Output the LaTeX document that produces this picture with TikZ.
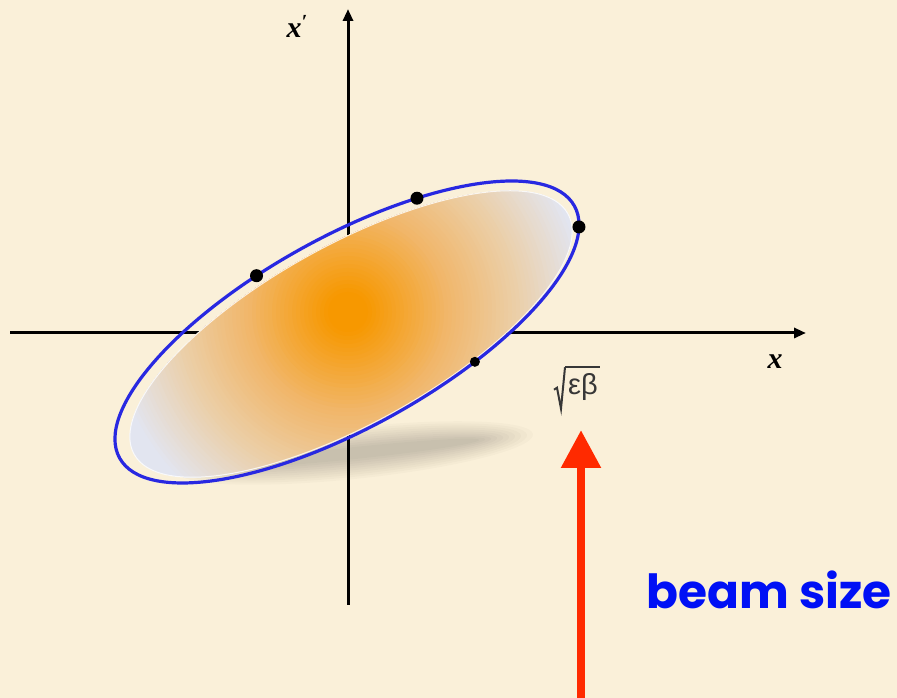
\documentclass[tikz,border=0pt]{standalone}
\usepackage{fontspec}
\newfontfamily\beamfont{Poppins}
\newfontfamily\greekfont{Liberation Serif}
\newfontfamily\greeksans{Liberation Sans}
\usetikzlibrary{arrows.meta,calc}
\definecolor{bgcol}{RGB}{250,240,217}
\definecolor{beamorange}{RGB}{247,152,0}
\definecolor{beammid}{RGB}{241,182,105}
\definecolor{beamtan}{RGB}{235,207,168}
\definecolor{beamedge}{RGB}{226,229,240}
\definecolor{emitblue}{RGB}{40,40,225}
\definecolor{arrowred}{RGB}{255,42,0}
\definecolor{textblue}{RGB}{0,16,245}
\definecolor{labgray}{RGB}{55,55,55}
\begin{document}
\begin{tikzpicture}[x=1pt,y=1pt,
  axis/.style={line width=3pt, black, -{Triangle[length=12pt,width=10pt]}},
  emit/.style={line width=3.2pt, draw=emitblue},
  dot/.style={circle, fill=black, inner sep=0pt, minimum size=13pt},
  lbl/.style={inner sep=0pt},
  axlbl/.style={inner sep=0pt, font=\fontsize{30}{34}\selectfont\greekfont\bfseries\itshape}]
\fill[bgcol] (0,0) rectangle (897,698);
\useasboundingbox (0,0) rectangle (897,698);
% axes
\coordinate (xl) at (10,365);
\coordinate (xr) at (806,365);
\coordinate (yb) at (348,93);
\coordinate (yt) at (348,689);
\draw[axis] (xl) -- (xr);
\draw[axis] (yb) -- (yt);
% shadow
\begin{scope}[shift={(355,245)}, rotate=6]
\foreach \k in {0,...,9}
  \fill[black, opacity=0.018] (0,0) ellipse [x radius={125+6*\k}, y radius={6+2.2*\k}];
\end{scope}
% filled beam (radial gradient built from concentric discs)
\coordinate (gc) at (348,386);
\begin{scope}
\clip[rotate around={29:(351,364)}] (351,364) ellipse [x radius=248, y radius=89];
\foreach \r in {264,260,...,4} {
  \ifdim \r pt > 240pt \def\col{beamedge}\else
  \ifdim \r pt > 170pt \pgfmathtruncatemacro\p{(\r-170)/70*100}\edef\col{beamedge!\p!beamtan}\else
  \ifdim \r pt > 100pt \pgfmathtruncatemacro\p{(\r-100)/70*100}\edef\col{beamtan!\p!beammid}\else
  \ifdim \r pt > 20pt \pgfmathtruncatemacro\p{(\r-20)/80*100}\edef\col{beammid!\p!beamorange}\else
  \def\col{beamorange}\fi\fi\fi\fi
  \fill[color=\col] (gc) circle (\r);
}
\end{scope}
\draw[white, line width=1pt, opacity=0.8, rotate around={29:(351,364)}] (351,364) ellipse [x radius=248, y radius=89];
% emittance ellipse
\begin{scope}[shift={(347,366)}, rotate=29]
\draw[emit] (0,0) ellipse [x radius=260, y radius=95];
\coordinate (p1) at ({260*cos(-12.5)},{95*sin(-12.5)});
\coordinate (p2) at ({260*cos(61)},{95*sin(61)});
\coordinate (p3) at ({260*cos(101.5)},{95*sin(101.5)});
\coordinate (p4) at ({260*cos(-68)},{95*sin(-68)});
\end{scope}
\node[dot] (d1) at (p1) {};
\node[dot] (d2) at (p2) {};
\node[dot] (d3) at (p3) {};
\node[dot, minimum size=10pt] (d4) at (p4) {};
% labels
\node[axlbl] (xp) at (297,672) {x\raisebox{9pt}{\fontsize{20}{20}\selectfont ′}};
\node[axlbl] (xx) at (775,336) {x};
\node[lbl, text=labgray, font=\fontsize{29}{32}\selectfont\greeksans, inner xsep=1pt] (eb) at (583,311) {εβ};
\draw[labgray, line width=2pt, line join=miter]
  ($(eb.south west)+(-13,11)$) -- ++(3,2) -- ($(eb.south west)+(-6,-8)$) -- ($(eb.north west)+(-2,6)$);
\draw[labgray, line width=1.6pt] ($(eb.north west)+(-2,6)$) -- ($(eb.north east)+(1,6)$);
\node[lbl, text=textblue, anchor=base, font=\fontsize{47}{50}\selectfont\beamfont\bfseries] (bs) at (769,89) {beam size};
% red arrow
\coordinate (ab) at (581,0);
\coordinate (tip) at (581,268);
\draw[arrowred, line width=8.5pt, -{Triangle[length=38pt,width=38pt]}] (ab) -- (tip);
\end{tikzpicture}
\end{document}
